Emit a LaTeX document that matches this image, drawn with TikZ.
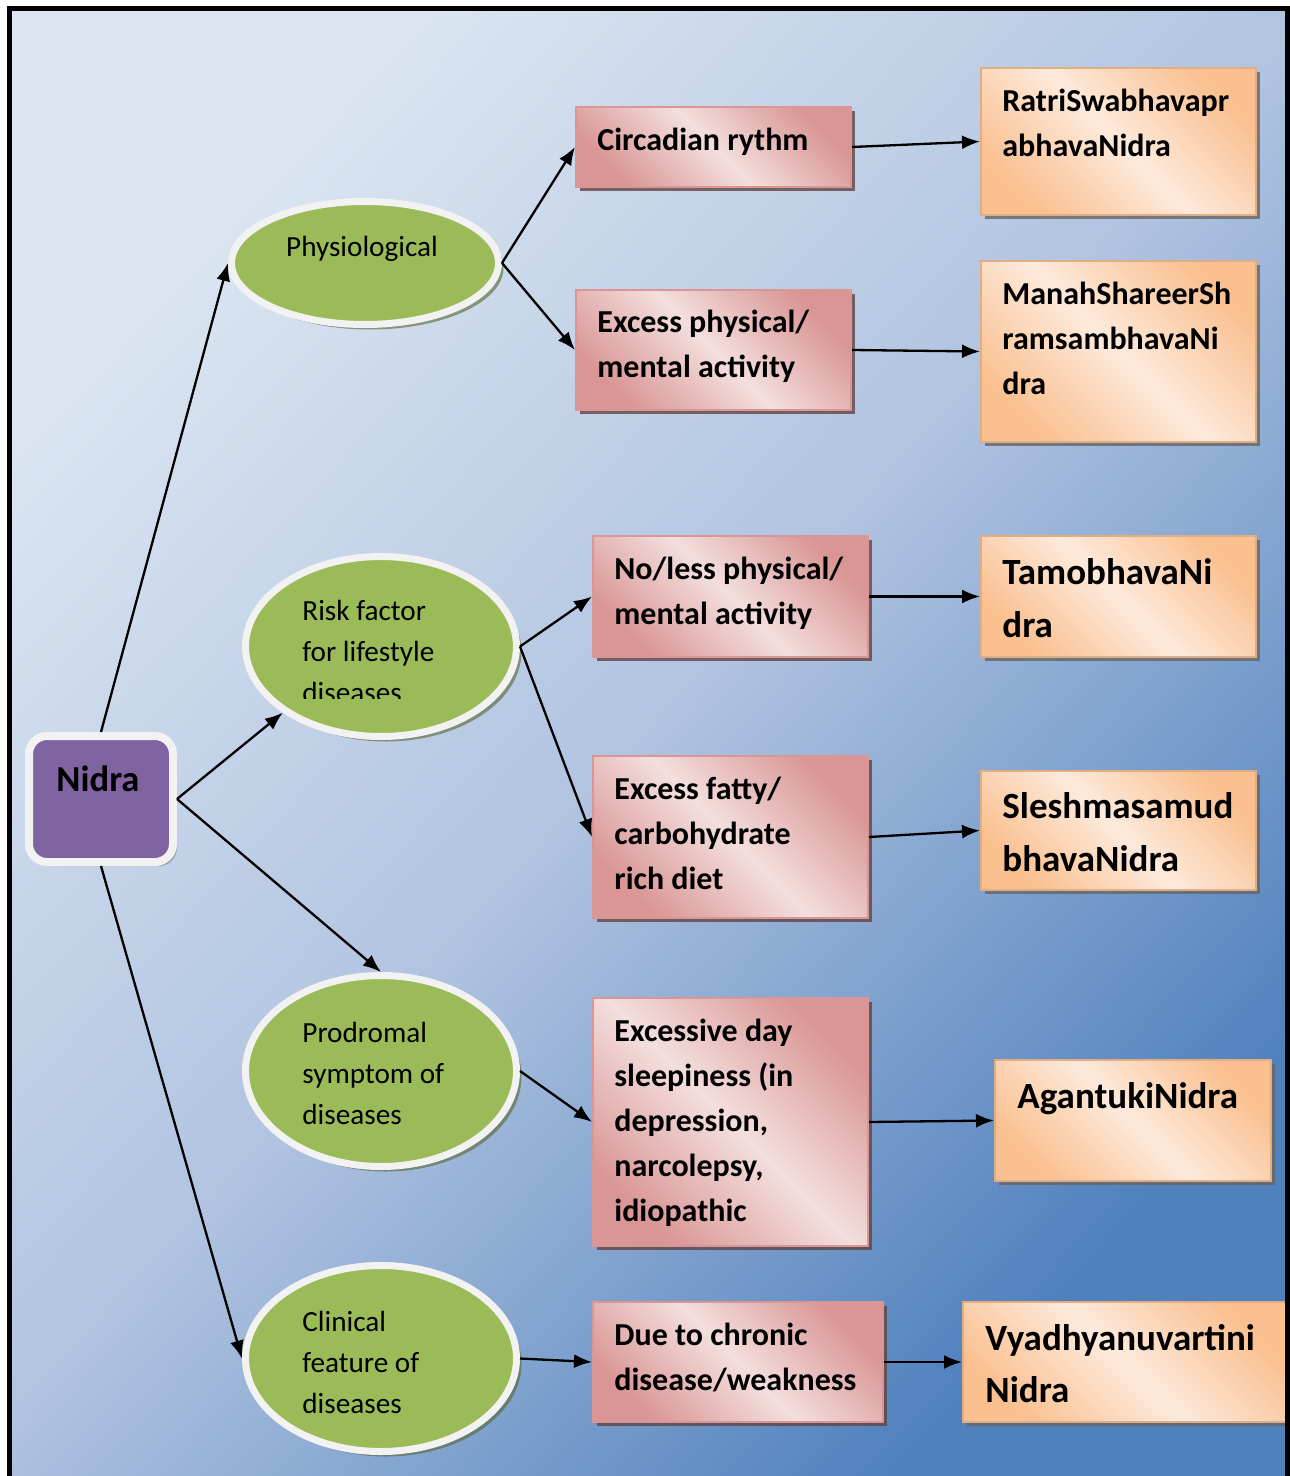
\documentclass[tikz,border=0pt]{standalone}
\usepackage{fontspec}
\setmainfont{Carlito}
\usetikzlibrary{shapes.geometric,shadows,arrows.meta}
\definecolor{bglight}{HTML}{DCE6F2}
\definecolor{bgmid}{HTML}{B0C3E0}
\definecolor{bgdark}{HTML}{4F81BD}
\definecolor{pinkdark}{HTML}{D99694}
\definecolor{pinklight}{HTML}{F3DFDE}
\definecolor{orgdark}{HTML}{FAC090}
\definecolor{orglight}{HTML}{FDEADC}
\definecolor{leaf}{HTML}{9BBB59}
\definecolor{ring}{HTML}{F2F2F2}
\definecolor{nidrafill}{HTML}{8064A2}
\begin{document}
\begin{tikzpicture}[x=0.5pt,y=-0.5pt,
  pinkbox/.style={rectangle, draw=pinkdark, line width=1pt, inner sep=0pt,
    top color=pinkdark, bottom color=pinkdark, middle color=pinklight, shading angle=-45,
    drop shadow={shadow xshift=2pt, shadow yshift=-2pt, fill=black!55!pinkdark, opacity=0.8}},
  orgbox/.style={rectangle, draw=orgdark!90!black, line width=1pt, inner sep=0pt,
    top color=orgdark, bottom color=orgdark, middle color=orglight, shading angle=-45,
    drop shadow={shadow xshift=2pt, shadow yshift=-2pt, fill=black!60, opacity=0.8}},
  leafell/.style={ellipse, draw=ring, line width=3.5pt, fill=leaf, inner sep=0pt,
    drop shadow={shadow xshift=2.5pt, shadow yshift=-2.5pt, fill=black!45!leaf, opacity=0.6}},
  smalltxt/.style={anchor=west, align=left, inner sep=0pt, font=\bfseries\fontsize{16}{22.5}\selectfont},
  bigtxt/.style={anchor=west, align=left, inner sep=0pt, font=\bfseries\fontsize{18.5}{26.2}\selectfont},
  elltxt/.style={anchor=west, align=left, inner sep=0pt, font=\fontsize{14.6}{20.5}\selectfont},
  conn/.style={-{Latex[length=9pt,width=7pt]}, line width=1.15pt, black}
]
\useasboundingbox (0,0) rectangle (1289,1476);
% background
\shade[top color=bglight, bottom color=bgdark, middle color=bgmid, shading angle=47]
  (9,8) rectangle (1287,1476);

% central node
\node[rectangle, rounded corners=9pt, draw=ring, line width=4pt, fill=nidrafill,
  minimum width=72pt, minimum height=63pt,
  drop shadow={shadow xshift=2pt, shadow yshift=-2pt, fill=black!50, opacity=0.6}] (nidra) at (101,799) {};
\node[font=\bfseries\fontsize{18.3}{22}\selectfont, inner sep=0pt] (nidratxt) at (98,779) {Nidra};

% ellipses
\node[leafell, minimum width=133.5pt, minimum height=61.5pt] (phys) at (365,263) {};
\node[font=\fontsize{14.6}{20.5}\selectfont, inner sep=0pt] (physt) at (362,249) {Physiological};

\node[leafell, minimum width=135.5pt, minimum height=90pt] (risk) at (381,646.5) {};
\begin{scope}
  \clip (250,560) rectangle (515,698);
  \node[elltxt] (riskt) at (302,651) {Risk factor\\for lifestyle\\diseases};
\end{scope}

\node[leafell, minimum width=135.5pt, minimum height=95.5pt] (prod) at (381,1071) {};
\node[elltxt] (prodt) at (302,1073) {Prodromal\\symptom of\\diseases};

\node[leafell, minimum width=135.5pt, minimum height=93pt] (clin) at (381,1358.5) {};
\node[elltxt] (clint) at (302,1362) {Clinical\\feature of\\diseases};

% pink boxes
\node[pinkbox, minimum width=137.5pt, minimum height=40pt] (circ) at (713.5,147) {};
\node[smalltxt] (circt) at (597,142) {Circadian rythm};
\node[pinkbox, minimum width=137.5pt, minimum height=60pt] (exphys) at (713.5,350) {};
\node[smalltxt] (exphyst) at (597,346.5) {Excess physical/\\mental activity};
\node[pinkbox, minimum width=137.5pt, minimum height=60.5pt] (noless) at (730.5,596.5) {};
\node[smalltxt] (nolesst) at (614,593) {No/less physical/\\mental activity};
\node[pinkbox, minimum width=137.5pt, minimum height=81pt] (fatty) at (730.5,837) {};
\node[smalltxt] (fattyt) at (614,833) {Excess fatty/\\carbohydrate\\rich diet};
\node[pinkbox, minimum width=137.5pt, minimum height=124pt] (exday) at (730.5,1122) {};
\node[smalltxt] (exdayt) at (614,1122.5) {Excessive day\\sleepiness (in\\depression,\\narcolepsy,\\idiopathic};
\node[pinkbox, minimum width=145pt, minimum height=60pt] (due) at (738,1362) {};
\node[smalltxt] (duet) at (614,1357.5) {Due to chronic\\disease/weakness};

% orange boxes
\node[orgbox, minimum width=137.5pt, minimum height=73.5pt] (ratri) at (1118.5,141.5) {};
\node[smalltxt] (ratrit) at (1002,122.5) {RatriSwabhavapr\\abhavaNidra};
\node[orgbox, minimum width=137.5pt, minimum height=90.5pt] (manah) at (1118.5,351.5) {};
\node[smalltxt] (manaht) at (1002,338) {ManahShareerSh\\ramsambhavaNi\\dra};
\node[orgbox, minimum width=137.5pt, minimum height=60.5pt] (tamo) at (1118.5,596.5) {};
\node[bigtxt] (tamot) at (1002,598) {TamobhavaNi\\dra};
\node[orgbox, minimum width=137.5pt, minimum height=59.5pt] (slesh) at (1118.5,830.5) {};
\node[bigtxt] (slesht) at (1002,832) {Sleshmasamud\\bhavaNidra};
\node[orgbox, minimum width=138pt, minimum height=60.5pt] (agan) at (1133,1120.5) {};
\node[bigtxt] (agant) at (1017,1099) {AgantukiNidra};
\node[orgbox, minimum width=162.5pt, minimum height=60pt] (vyad) at (1125.5,1362) {};
\node[bigtxt] (vyadt) at (985,1363.5) {Vyadhyanuvartini\\Nidra};

% connectors
\draw[conn] (nidra.north) -- (phys.west);
\draw[conn] (nidra.east) -- (risk.214);
\draw[conn] (nidra.east) -- (prod.north);
\draw[conn] (nidra.south) -- (clin.west);
\draw[conn] (phys.east) -- (circ.west);
\draw[conn] (phys.east) -- (exphys.west);
\draw[conn] (circ.east) -- (ratri.west);
\draw[conn] (exphys.east) -- (manah.west);
\draw[conn] (risk.east) -- (noless.west);
\draw[conn] (risk.east) -- (fatty.west);
\draw[conn] (noless.east) -- (tamo.west);
\draw[conn] (fatty.east) -- (slesh.west);
\draw[conn] (prod.east) -- (exday.west);
\draw[conn] (exday.east) -- (agan.west);
\draw[conn] (clin.east) -- (due.west);
\draw[conn] (due.east) -- (vyad.west);

% frame
\draw[line width=2.5pt, black] (9.5,1476) -- (9.5,8.5) -- (1287,8.5) -- (1287,1476);
\end{tikzpicture}
\end{document}
